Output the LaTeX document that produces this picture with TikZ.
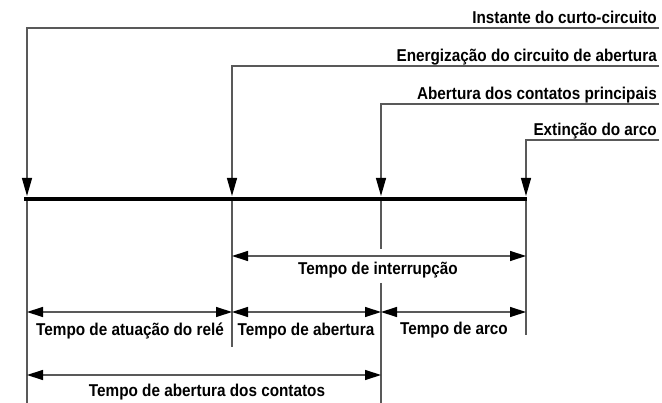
\documentclass[tikz,border=0pt]{standalone}
\usepackage{fontspec}
\setmainfont{Liberation Sans}
\usetikzlibrary{arrows.meta}
\newcommand{\tallt}[1]{\scalebox{1}[1.12]{#1}}
\begin{document}
\begin{tikzpicture}[x=1pt,y=-1pt,
  thinln/.style={draw=black!65, line width=1.3pt},
  tipd/.style={-{Triangle[length=18pt,width=10pt,color=black]}},
  dim/.style={thinln, {Triangle[length=16pt,width=10pt,color=black]}-{Triangle[length=16pt,width=10pt,color=black]}},
  lbl/.style={font=\fontsize{15.3}{17}\selectfont\bfseries, inner sep=0pt},
  toplbl/.style={lbl, anchor=base east}]
\useasboundingbox (0,0) rectangle (662,403);
% top corners
\coordinate (e1) at (659,28);  \coordinate (k1) at (27,28);
\coordinate (e2) at (659,66);  \coordinate (k2) at (232,66);
\coordinate (e3) at (659,104); \coordinate (k3) at (381,104);
\coordinate (e4) at (659,140); \coordinate (k4) at (526,140);
% bar points
\coordinate (b1) at (27,196);  \coordinate (b2) at (232,196);
\coordinate (b3) at (381,196); \coordinate (b4) at (526,196);
\coordinate (s1) at (24,199);  \coordinate (s4) at (527,199);
% labels
\node[toplbl] (t1) at (657,24) {\tallt{Instante do curto-circuito}};
\node[toplbl] (t2) at (657,62) {\tallt{Energização do circuito de abertura}};
\node[toplbl] (t3) at (657,100) {\tallt{Abertura dos contatos principais}};
\node[toplbl] (t4) at (657,136) {\tallt{Extinção do arco}};
% pointers
\draw[thinln, tipd] (e1) -- (k1) -- (b1);
\draw[thinln, tipd] (e2) -- (k2) -- (b2);
\draw[thinln, tipd] (e3) -- (k3) -- (b3);
\draw[thinln, tipd] (e4) -- (k4) -- (b4);
% bar
\draw[line width=4.5pt, black] (s1) -- (s4);
% lower verticals
\coordinate (d1) at (27,201);  \coordinate (f1) at (27,403);
\coordinate (d2) at (232,201); \coordinate (f2) at (232,347);
\coordinate (d3) at (381,201); \coordinate (g3) at (381,249);
\coordinate (h3) at (381,283); \coordinate (f3) at (381,403);
\coordinate (d4) at (526,201); \coordinate (f4) at (526,335);
\draw[thinln] (d1) -- (f1);
\draw[thinln] (d2) -- (f2);
\draw[thinln] (d3) -- (g3);
\draw[thinln] (h3) -- (f3);
\draw[thinln] (d4) -- (f4);
% dimension arrows
\coordinate (i1) at (232,256); \coordinate (i2) at (526,256);
\draw[dim] (i1) -- (i2);
\node[lbl] (li) at (378,270) {\tallt{Tempo de interrupção}};
\coordinate (r1) at (27,312);  \coordinate (r2) at (232,312);
\coordinate (r3) at (381,312); \coordinate (r4) at (526,312);
\draw[dim] (r1) -- (r2);
\draw[dim] (r2) -- (r3);
\draw[dim] (r3) -- (r4);
\node[lbl] (la) at (130,331) {\tallt{Tempo de atuação do relé}};
\node[lbl] (lb) at (306,331) {\tallt{Tempo de abertura}};
\node[lbl] (lc) at (454,330) {\tallt{Tempo de arco}};
\coordinate (q1) at (27,375);  \coordinate (q3) at (381,375);
\draw[dim] (q1) -- (q3);
\node[lbl] (ld) at (207,392) {\tallt{Tempo de abertura dos contatos}};
\end{tikzpicture}
\end{document}
